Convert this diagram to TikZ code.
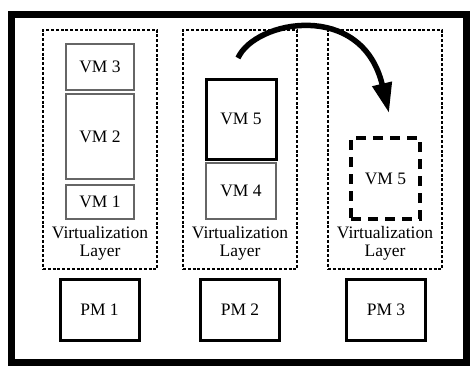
\documentclass[tikz,border=0pt]{standalone}
\usepackage{fontspec}
\setmainfont{Liberation Serif}
\usetikzlibrary{arrows.meta}
\tikzset{
  container/.style={draw, line width=2.4pt, dash pattern=on 3pt off 1.8pt, minimum width=114pt, minimum height=239pt, inner sep=0pt},
  vmbox/.style={draw=black!60, line width=1.3pt, inner sep=0pt},
  vmthick/.style={draw=black, line width=3pt, inner sep=0pt},
  vmghost/.style={draw=black, line width=3.2pt, dash pattern=on 10pt off 7pt, inner sep=0pt},
  pmbox/.style={draw=black, line width=3pt, minimum width=79pt, minimum height=61pt, inner sep=0pt},
  lbl/.style={font=\fontsize{17.5}{18}\selectfont, align=center, inner sep=0pt},
}
\begin{document}
\begin{tikzpicture}[x=1pt, y=-1pt]
\useasboundingbox (0,0) rectangle (470,365);
\fill[white] (0,0) rectangle (470,365);
\draw[line width=7pt] (11.5,14.5) rectangle (466.5,362.5);

% containers
\node[container] (c1) at (100,149.5) {};
\node[container] (c2) at (240,149.5) {};
\node[container] (c3) at (385,149.5) {};

% PM 1 column
\node[vmbox, minimum width=68pt, minimum height=46pt, lbl] (vm3) at (100,67) {VM 3};
\node[vmbox, minimum width=68pt, minimum height=85pt, lbl] (vm2) at (100,136.5) {VM 2};
\node[vmbox, minimum width=68pt, minimum height=34pt, lbl] (vm1) at (100,202) {VM 1};
\node[lbl] (vl1) at (100,243) {Virtualization\\Layer};

% PM 2 column
\node[vmthick, minimum width=70pt, minimum height=80pt, lbl] (vm5) at (241,119) {VM 5};
\node[vmbox, minimum width=70pt, minimum height=56pt, lbl] (vm4) at (241,191) {VM 4};
\node[lbl] (vl2) at (240,243) {Virtualization\\Layer};

% PM 3 column
\node[vmghost, minimum width=69pt, minimum height=81pt, lbl] (vm5b) at (385.5,178.5) {VM 5};
\node[lbl] (vl3) at (385,243) {Virtualization\\Layer};

% PMs
\node[pmbox, lbl] (pm1) at (99.5,309.5) {PM 1};
\node[pmbox, lbl] (pm2) at (240,309.5) {PM 2};
\node[pmbox, lbl] (pm3) at (386,309.5) {PM 3};

% migration arrow
\coordinate (mstart) at (238,58);
\coordinate (mend) at (389,113);
\draw[line width=5.5pt, -{Triangle[length=30pt,width=19pt]}]
  (mstart) .. controls (255,20) and (362,0) .. (mend);
\end{tikzpicture}
\end{document}
